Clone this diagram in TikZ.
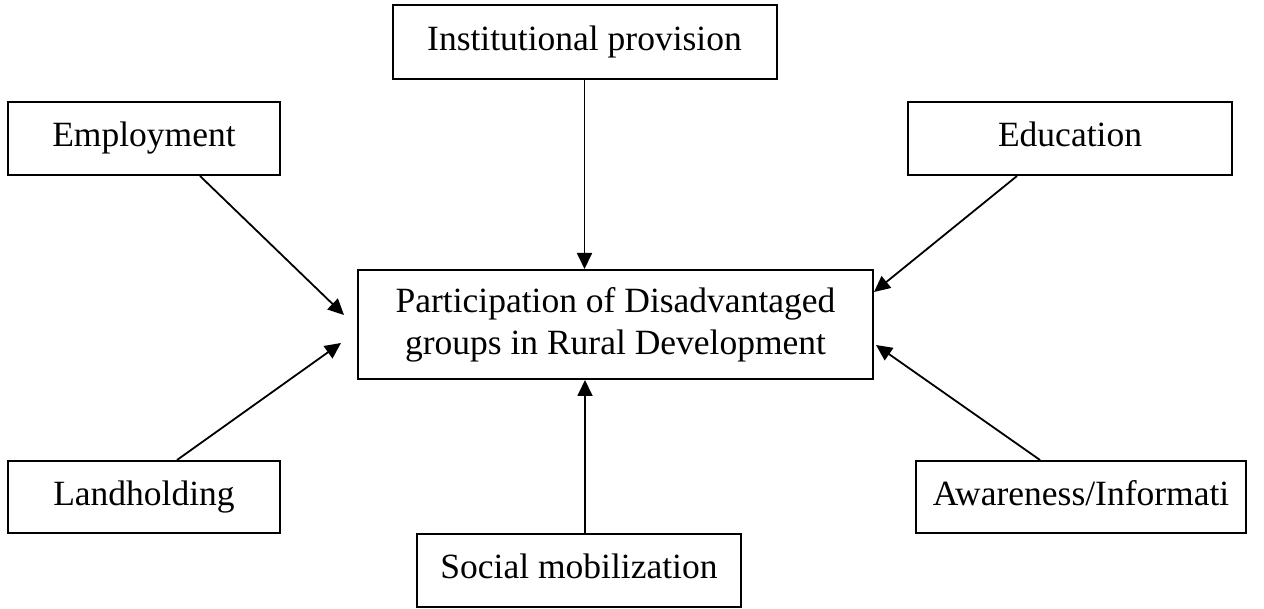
\documentclass[tikz,border=0pt]{standalone}
\usepackage{fontspec}
\setmainfont{Liberation Serif}
\usetikzlibrary{arrows.meta,calc}
\begin{document}
\begin{tikzpicture}[x=1pt,y=-1pt,
  frame/.style={draw,line width=2pt,inner sep=0pt,font=\fontsize{35.5}{42}\selectfont},
  one/.style={frame,text height=24pt,text depth=8pt},
  conn/.style={line width=1.8pt,-{Triangle[length=16pt,width=15pt]}}]
\useasboundingbox (0,0) rectangle (1264,609);
\node[one,minimum width=384pt,minimum height=74pt] (inst) at (584.5,42.5) {Institutional provision};
\node[one,minimum width=272pt,minimum height=73pt] (emp) at (144,138.5) {Employment};
\node[one,minimum width=324pt,minimum height=73pt] (edu) at (1070,138.5) {Education};
\node[frame,align=center,minimum width=515pt,minimum height=109pt] (ctr) at (615.5,324.5) {Participation of Disadvantaged\\groups in Rural Development};
\node[one,minimum width=272pt,minimum height=72pt] (land) at (144,497) {Landholding};
\node[one,minimum width=330pt,minimum height=72pt] (aware) at (1081,497) {Awareness/Informati};
\node[one,minimum width=324pt,minimum height=73pt] (soc) at (579,570.5) {Social mobilization};
\coordinate (e1) at ($(emp.south)+(56,0)$);
\coordinate (e2) at ($(ctr.west)+(-13,-9.5)$);
\coordinate (l1) at ($(land.north)+(33,0)$);
\coordinate (l2) at ($(ctr.west)+(-16,18.5)$);
\coordinate (d1) at ($(edu.south)+(-53,0)$);
\coordinate (d2) at ($(ctr.east)+(0,-32.5)$);
\coordinate (a1) at ($(aware.north)+(-41,0)$);
\coordinate (a2) at ($(ctr.east)+(2,20.5)$);
\coordinate (s1) at ($(soc.north)+(6,0)$);
\draw[conn] (inst.south) -- (inst.south |- ctr.north);
\draw[conn] (e1) -- (e2);
\draw[conn] (l1) -- (l2);
\draw[conn] (d1) -- (d2);
\draw[conn] (a1) -- (a2);
\draw[conn] (s1) -- (s1 |- ctr.south);
\end{tikzpicture}
\end{document}
